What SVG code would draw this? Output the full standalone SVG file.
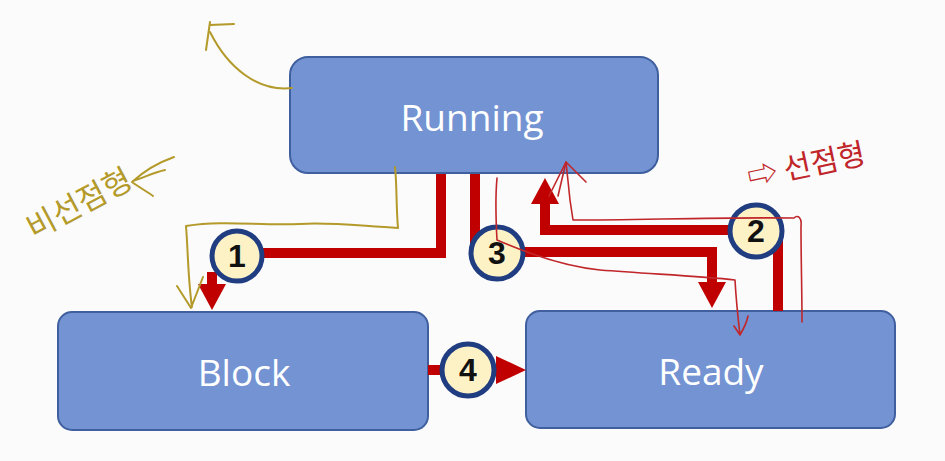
<svg xmlns="http://www.w3.org/2000/svg" width="945" height="461" viewBox="0 0 945 461">
<defs>
<style>
.box{fill:#7393d2;stroke:#3f5f9f;stroke-width:2}
.lbl{font-family:"Open Sans","Noto Sans",sans-serif;font-size:37px;fill:#ffffff;text-anchor:middle}
.flow{fill:none;stroke:#c00000;stroke-width:10;stroke-linejoin:miter}
.head{fill:#c00000}
.badge{fill:#fcf2c6;stroke:#1f3d80;stroke-width:5}
.num{font-family:"Liberation Sans",Arial,sans-serif;font-weight:bold;font-size:32px;fill:#111;text-anchor:middle}
.yel{fill:none;stroke:#b39a2a;stroke-width:2;stroke-linecap:round;stroke-linejoin:round}
.red{fill:none;stroke:#c0262a;stroke-width:1.6;stroke-linecap:round;stroke-linejoin:round}
.hw{font-family:"Noto Sans CJK KR",sans-serif}
</style>
</defs>
<rect width="945" height="461" fill="#fbfbfb"/>
<g id="running"><rect class="box" x="290" y="57" width="368" height="116" rx="18"/><text class="lbl" x="472" y="131">Running</text></g>
<g id="block"><rect class="box" x="58" y="312" width="370" height="118" rx="14"/><text class="lbl" x="244" y="386">Block</text></g>
<g id="ready"><rect class="box" x="526" y="311" width="369" height="117" rx="14"/><text class="lbl" x="711" y="385">Ready</text></g>
<g id="connectors">
<path class="flow" d="M441,174 V253 H258"/>
<path class="flow" d="M212,272 V286"/>
<polygon class="head" points="198,284 226,284 212,310"/>
<path class="flow" d="M475,174 V252 H712 V284"/>
<polygon class="head" points="698,282 726,282 712,308"/>
<path class="flow" d="M778,311 V230 H545 V202"/>
<polygon class="head" points="531,204 559,204 545,178"/>
<path class="flow" d="M428,370 H498"/>
<polygon class="head" points="496,356 496,384 526,370"/>
</g>
<g id="b1"><circle class="badge" cx="237" cy="256" r="25"/><text class="num" x="237" y="267">1</text></g>
<g id="b3"><circle class="badge" cx="497" cy="253" r="26"/><text class="num" x="497" y="264">3</text></g>
<g id="b2"><circle class="badge" cx="756" cy="231" r="26"/><text class="num" x="756" y="242">2</text></g>
<g id="b4"><circle class="badge" cx="468" cy="370" r="26"/><text class="num" x="468" y="381">4</text></g>
<g id="annotations">
<path class="yel" d="M292,88 C258,92 228,68 210,32"/>
<path class="yel" d="M206,50 L210,22 M210,25 L234,24"/>
<text class="hw" x="34" y="240" font-size="31" fill="#b39a2a" transform="rotate(-28 34 240)">비선점형</text>
<path class="yel" d="M174,157 C160,162 145,170 132,182 C140,188 148,192 153,196 M133,181 C145,177 155,172 165,170"/>
<path class="yel" d="M395,167 C397,185 396,205 398,228 C360,226 330,222 300,224 C260,226 225,220 186,226 C188,250 188,280 192,307 M177,286 L191,308 L203,277"/>
<path class="red" d="M497,178 C495,200 496,222 497,240 C520,250 560,266 600,270 C650,274 700,276 735,280 C736,298 738,318 740,335 L734,326 M740,335 C744,328 747,322 748,316"/>
<path class="red" d="M549,196 L566,162 L586,182 M566,162 L570,200 L573,220 C640,220 720,217 794,218 C798,214 802,218 801,226 C801,260 802,292 802,322"/>
<path class="red" d="M566,162 L558,196"/>
<text class="hw" x="750" y="188" font-size="30" fill="#c0262a" transform="rotate(-12 750 188)">⇨ 선점형</text>
</g>
</svg>
